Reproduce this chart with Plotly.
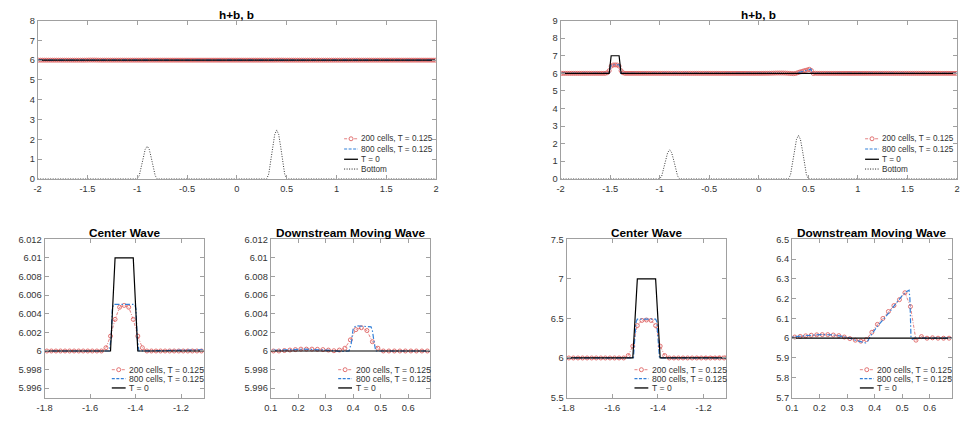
import numpy as np
import plotly.graph_objects as go

W, H = 964, 424

# ---------------- data ----------------
# 200-cell grid: cell centres on [-2, 2]
x200 = np.round(np.linspace(-1.99, 1.99, 200), 2)

# small perturbation (left figure), 200 cells, T = 0.125
h200_small = ([6.0] * 23 +
              [6.00035, 6.0016, 6.0034, 6.0047, 6.0049, 6.0047, 6.0034, 6.0016, 6.00035] +
              [6.0] * 68 +
              [6.0, 6.0, 6.00005, 6.00005, 6.0001] +
              [6.0, 6.0, 6.00005, 6.0001, 6.00015, 6.0002, 6.0002, 6.0002, 6.00018, 6.00015,
               6.0001, 6.00003, 6.0001, 6.0003, 6.0012, 6.0023, 6.0025, 6.0022, 6.001, 6.0003, 6.0] +
              [6.0] * 74)

# large perturbation (right figure), 200 cells, T = 0.125
h200_big = ([6.0] * 23 +
            [6.03, 6.15, 6.41, 6.475, 6.48, 6.475, 6.41, 6.15, 6.03] +
            [6.0] * 68 +
            [6.0, 6.001, 6.002, 6.003, 6.004] +
            [6.006, 6.009, 6.012, 6.015, 6.017, 6.018, 6.018, 6.016, 6.013, 6.006,
             5.998, 5.99, 5.985, 5.993, 6.03, 6.07, 6.10, 6.135, 6.165, 6.195,
             6.23, 6.16, 5.99, 6.008, 6.0, 6.002, 6.0] +
            [6.0] * 68)

# 800 cells, T = 0.125
x800_small = [-1.9975, -1.515, -1.507, -1.502, -1.497, -1.403, -1.398, -1.393, -1.385,
              0.05, 0.15, 0.22, 0.30, 0.36, 0.385, 0.393, 0.40, 0.41, 0.465, 0.47, 0.476, 0.482, 1.9975]
h800_small = [6.0, 6.0, 6.0015, 6.0045, 6.005, 6.005, 6.0045, 6.0015, 6.0,
              6.0, 6.0001, 6.0002, 6.0001, 5.99995, 6.0, 6.0008, 6.0024, 6.0027, 6.0026, 6.0022, 6.001, 6.0, 6.0]

x800_big = [-1.9975, -1.507, -1.500, -1.495, -1.49, -1.41, -1.405, -1.40, -1.393,
            0.0, 0.05, 0.10, 0.15, 0.20, 0.25, 0.28, 0.30, 0.33, 0.355, 0.367, 0.375, 0.385,
            0.41, 0.45, 0.48, 0.50, 0.515, 0.525, 0.528, 0.532, 0.537, 0.545, 1.9975]
h800_big = [6.0, 6.0, 6.3, 6.46, 6.49, 6.49, 6.46, 6.3, 6.0,
            6.0, 6.003, 6.006, 6.013, 6.018, 6.017, 6.012, 6.005, 5.99, 5.98, 5.976, 5.985, 6.012,
            6.06, 6.125, 6.18, 6.215, 6.235, 6.243, 6.2, 6.0, 5.995, 6.0, 6.0]

# T = 0 (on the 200-cell grid)
x_t0 = [-1.99, -1.51, -1.49, -1.41, -1.39, 1.99]
h_t0_small = [6.0, 6.0, 6.01, 6.01, 6.0, 6.0]
h_t0_big = [6.0, 6.0, 7.0, 7.0, 6.0, 6.0]

# Bottom topography
x_bot = [-2.0, -1.0, -0.98, -0.96, -0.94, -0.92, -0.9, -0.88, -0.86, -0.84, -0.82, -0.8,
         0.3, 0.32, 0.34, 0.36, 0.38, 0.4, 0.42, 0.44, 0.46, 0.48, 0.5, 2.0]
b_bot = [0.0, 0.0, 0.16, 0.57, 1.08, 1.49, 1.65, 1.49, 1.08, 0.57, 0.16, 0.0,
         0.0, 0.24, 0.86, 1.62, 2.24, 2.47, 2.24, 1.62, 0.86, 0.24, 0.0, 0.0]

labels = ["200 cells, T = 0.125", "800 cells, T = 0.125", "T = 0", "Bottom"]

top_xticks = [-2, -1.5, -1, -0.5, 0, 0.5, 1, 1.5, 2]
center_xticks = [-1.8, -1.6, -1.4, -1.2]
down_xticks = [0.1, 0.2, 0.3, 0.4, 0.5, 0.6]
small_yticks = [5.996, 5.998, 6.0, 6.002, 6.004, 6.006, 6.008, 6.01, 6.012]
big_center_yticks = [5.5, 6.0, 6.5, 7.0, 7.5]
big_down_yticks = [5.7, 5.8, 5.9, 6.0, 6.1, 6.2, 6.3, 6.4, 6.5]

# ---------------- styles ----------------
RED = "#DE6262"
BLUE = "#3380D8"
FONT = "Liberation Sans, Arial, Helvetica, sans-serif"
AXC = "#A0A0A0"
TXT = "#333333"


def fmt(v):
    return "%g" % round(v, 6)


# panels: (left px, right px, top px, bottom px, xrange, xticks, yrange, yticks, title, dataset, with bottom)
panels = [
    (30, 433, 16, 178, [-2, 2], top_xticks, [0, 8], list(range(0, 9)), "h+b, b", "small", True),
    (559, 960, 16, 178, [-2, 2], top_xticks, [0, 9], list(range(0, 10)), "h+b, b", "big", True),
    (37, 198, 240, 402, [-1.8, -1.1], center_xticks, [5.995, 6.012], small_yticks, "Center Wave", "small", False),
    (265.7, 427, 240, 402, [0.1, 0.68], down_xticks, [5.995, 6.012], small_yticks, "Downstream Moving Wave", "small", False),
    (565, 726.7, 240, 402, [-1.8, -1.1], center_xticks, [5.5, 7.5], big_center_yticks, "Center Wave", "big", False),
    (793, 954.7, 240, 402, [0.1, 0.68], down_xticks, [5.7, 6.5], big_down_yticks, "Downstream Moving Wave", "big", False),
]

fig = go.Figure()
layout = dict(
    width=W, height=H, margin=dict(l=0, r=0, t=0, b=0),
    paper_bgcolor="white", plot_bgcolor="white", showlegend=False,
    font=dict(family=FONT, color=TXT),
)
annotations = []
shapes = []

for k, (L, R, T, B, xr, xt, yr, yt, title, ds, withbot) in enumerate(panels, start=1):
    xa = "x" if k == 1 else "x%d" % k
    ya = "y" if k == 1 else "y%d" % k
    xkey = "xaxis" if k == 1 else "xaxis%d" % k
    ykey = "yaxis" if k == 1 else "yaxis%d" % k
    axcommon = dict(showline=True, linecolor=AXC, linewidth=1, mirror="ticks", ticks="inside",
                    ticklen=4, tickwidth=1, tickcolor=AXC, showgrid=False, zeroline=False,
                    tickfont=dict(family=FONT, size=9.3, color=TXT))
    layout[xkey] = dict(domain=[L / W, R / W], range=xr, anchor=ya,
                        tickvals=xt, ticktext=[fmt(v) for v in xt], ticklabelstandoff=1, **axcommon)
    layout[ykey] = dict(domain=[1 - B / H, 1 - T / H], range=yr, anchor=xa,
                        tickvals=yt, ticktext=[fmt(v) for v in yt], **axcommon)

    if ds == "small":
        h200, x800, h800, ht0 = h200_small, x800_small, h800_small, h_t0_small
    else:
        h200, x800, h800, ht0 = h200_big, x800_big, h800_big, h_t0_big

    fig.add_trace(go.Scatter(x=x200, y=h200, xaxis=xa, yaxis=ya, mode="lines+markers",
                             line=dict(color=RED, width=0.8, dash="3px,1.5px,1px,1.5px"),
                             marker=dict(symbol="circle-open", size=4, color=RED, line=dict(width=0.9))))
    fig.add_trace(go.Scatter(x=x800, y=h800, xaxis=xa, yaxis=ya, mode="lines",
                             line=dict(color=BLUE, width=1.2, dash="5px,2px,1.5px,2px")))
    fig.add_trace(go.Scatter(x=x_t0, y=ht0, xaxis=xa, yaxis=ya, mode="lines",
                             line=dict(color="black", width=1.2)))
    if withbot:
        fig.add_trace(go.Scatter(x=x_bot, y=b_bot, xaxis=xa, yaxis=ya, mode="lines",
                                 line=dict(color="#222222", width=0.9, dash="1px,1.5px")))

    # title
    ty = 10 if T < 100 else 233
    annotations.append(dict(text="<b>%s</b>" % title, x=(L + R) / 2 / W, y=1 - ty / H,
                            xref="paper", yref="paper", xanchor="center", yanchor="middle",
                            showarrow=False, font=dict(family=FONT, size=11.8, color="black")))

    # legend (MATLAB style: no box, compact rows)
    if withbot:
        offs = [41, 30.5, 20, 10]
        nent = 4
        fs = 8.2
    else:
        offs = [28.5, 19.3, 9.8]
        nent = 3
        fs = 8.6
    sx0, sx1, tx = R - 93, R - 79, R - 77.5
    styles = [("3px,2px", RED, 0.8, True), ("3px,1.5px", BLUE, 1.2, False),
              ("solid", "black", 1.3, False), ("1px,1.5px", "black", 0.9, False)]
    for i in range(nent):
        yy = 1 - (B - offs[i]) / H
        dash, col, wid, mk = styles[i]
        shapes.append(dict(type="line", xref="paper", yref="paper", x0=sx0 / W, x1=sx1 / W,
                           y0=yy, y1=yy, line=dict(color=col, width=wid, dash=dash)))
        if mk:
            shapes.append(dict(type="circle", xref="paper", yref="paper", xsizemode="pixel",
                               ysizemode="pixel", xanchor=(sx0 + sx1) / 2 / W, yanchor=yy,
                               x0=-2, x1=2, y0=-2, y1=2,
                               line=dict(color=col, width=0.9), fillcolor="white"))
        annotations.append(dict(text=labels[i], x=tx / W, y=yy, xref="paper", yref="paper",
                                xanchor="left", yanchor="middle", showarrow=False,
                                font=dict(family=FONT, size=fs, color=TXT)))

layout["annotations"] = annotations
layout["shapes"] = shapes
fig.update_layout(**layout)
fig.write_html("out.html")
